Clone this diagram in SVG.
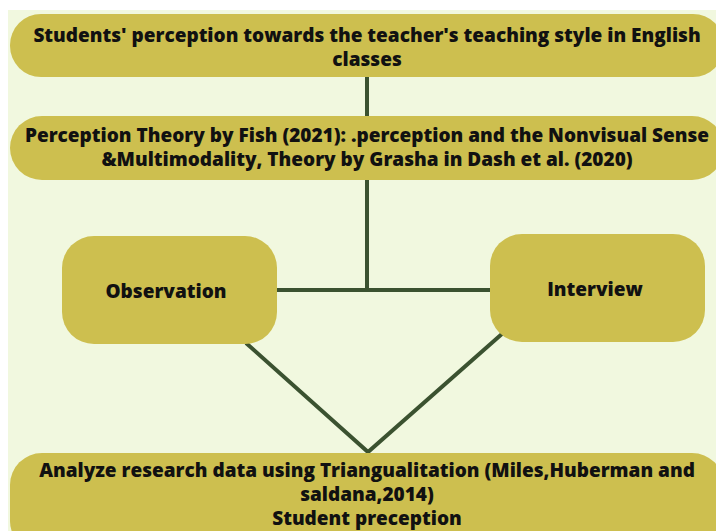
<svg xmlns="http://www.w3.org/2000/svg" width="716" height="531" viewBox="0 0 716 531">
<style>
.n{fill:#cdbf4f}
.t{font-family:"Open Sans","DejaVu Sans",sans-serif;font-weight:800;font-size:19px;fill:#111;text-anchor:middle}
.c{stroke:#3b5230;stroke-width:4;fill:none}
</style>
<rect width="716" height="531" fill="#ffffff"/>
<rect x="8" y="10" width="708" height="521" fill="#f1f8df"/>
<g id="connectors">
<line class="c" x1="367" y1="76" x2="367" y2="117"/>
<line class="c" x1="367" y1="180" x2="367" y2="290"/>
<line class="c" x1="276" y1="290" x2="491" y2="290"/>
<polyline class="c" points="246,343 368,452 503,333"/>
</g>
<g id="n1">
<rect class="n" x="10" y="14" width="714" height="63" rx="31"/>
<text class="t" x="367" y="42">Students' perception towards the teacher's teaching style in English</text>
<text class="t" x="367" y="66">classes</text>
</g>
<g id="n2">
<rect class="n" x="10" y="116" width="714" height="64" rx="32"/>
<text class="t" x="367" y="142">Perception Theory by Fish (2021): .perception and the Nonvisual Sense</text>
<text class="t" x="367" y="166">&amp;Multimodality, Theory by Grasha in Dash et al. (2020)</text>
</g>
<g id="n3">
<rect class="n" x="62" y="236" width="215" height="108" rx="32"/>
<text class="t" x="166" y="298">Observation</text>
</g>
<g id="n4">
<rect class="n" x="490" y="234" width="215" height="108" rx="32"/>
<text class="t" x="595" y="296">Interview</text>
</g>
<g id="n5">
<rect class="n" x="10" y="453" width="714" height="100" rx="32"/>
<text class="t" x="367" y="477">Analyze research data using Triangualitation (Miles,Huberman and</text>
<text class="t" x="367" y="501">saldana,2014)</text>
<text class="t" x="367" y="525">Student preception</text>
</g>
</svg>
